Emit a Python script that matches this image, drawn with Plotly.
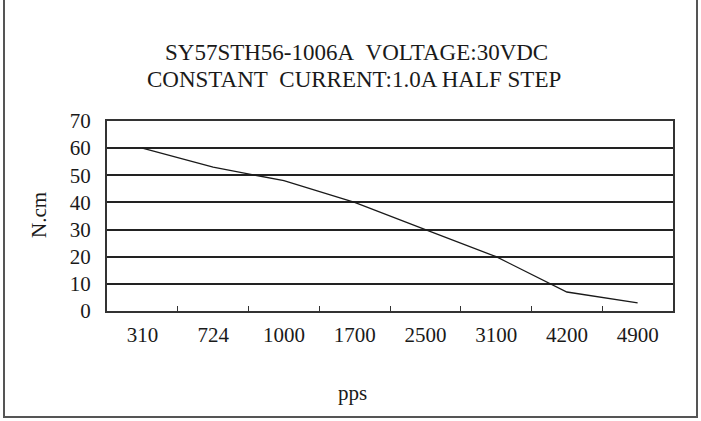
import plotly.graph_objects as go

# ==========================================
# DATA
# ==========================================
SPEED_PPS = ["310", "724", "1000", "1700", "2500", "3100", "4200", "4900"]
TORQUE_NCM = [60, 53, 48, 40, 30, 20, 7, 3]
Y_TICKS = [0, 10, 20, 30, 40, 50, 60, 70]

TITLE_LINE_1 = "SY57STH56-1006A&nbsp;&nbsp;VOLTAGE:30VDC"
TITLE_LINE_2 = "CONSTANT&nbsp;&nbsp;CURRENT:1.0A HALF STEP"

FONT = "Liberation Serif, Times New Roman, serif"

# plot area in window pixels
W, H = 701, 421
L, R, T, B = 107, 673, 121, 311


def px_x(p):
    return (p - L) / (R - L)


def px_y(p):
    return (B - p) / (B - T)


fig = go.Figure()
fig.add_trace(go.Scatter(
    x=SPEED_PPS,
    y=TORQUE_NCM,
    mode="lines",
    line=dict(color="#1a1a1a", width=1.3),
    showlegend=False,
))

fig.update_layout(
    width=W,
    height=H,
    margin=dict(l=L, r=W - R, t=T, b=H - B),
    paper_bgcolor="white",
    plot_bgcolor="white",
    font=dict(family=FONT, size=21, color="#1a1a1a"),
)

fig.update_xaxes(
    type="category",
    range=[-0.5, len(SPEED_PPS) - 0.5],
    tickson="boundaries",
    ticks="inside",
    ticklen=5,
    tickwidth=1.2,
    tickcolor="#333",
    showline=True,
    linecolor="#333",
    linewidth=2,
    mirror=True,
    showgrid=False,
    ticklabelstandoff=4,
    tickfont=dict(size=21),
)
fig.update_yaxes(
    range=[0, 70],
    tickvals=Y_TICKS,
    showgrid=True,
    gridcolor="#222",
    gridwidth=1.5,
    showline=True,
    linecolor="#333",
    linewidth=2,
    mirror=True,
    ticks="",
    ticklabelstandoff=10,
    zeroline=False,
    tickfont=dict(size=21),
)

# titles as annotations so they sit where the original has them
labels = [
    (TITLE_LINE_1, 356, 52, 0, 23),
    (TITLE_LINE_2, 354, 79, 0, 23),
    ("N.cm", 39, 215, -90, 21),
    ("pps", 352, 393, 0, 21),
]
for text, x, y, angle, size in labels:
    fig.add_annotation(text=text, x=px_x(x), y=px_y(y), xref="paper", yref="paper",
                       xanchor="center", yanchor="middle", showarrow=False,
                       textangle=angle, font=dict(size=size))

# outer frame: left, bottom and right sides only (top is cut off in the original)
x0, x1, y0, y1 = px_x(4), px_x(697), px_y(417), px_y(-5)
fig.add_shape(type="path", xref="paper", yref="paper",
              path=f"M {x0},{y1} L {x0},{y0} L {x1},{y0} L {x1},{y1}",
              line=dict(color="#555", width=2))

# drop the browser's default body margin so the figure fills the window
fig.write_html("out.html", config={"displayModeBar": False},
               post_script="document.body.style.margin = '0';")
